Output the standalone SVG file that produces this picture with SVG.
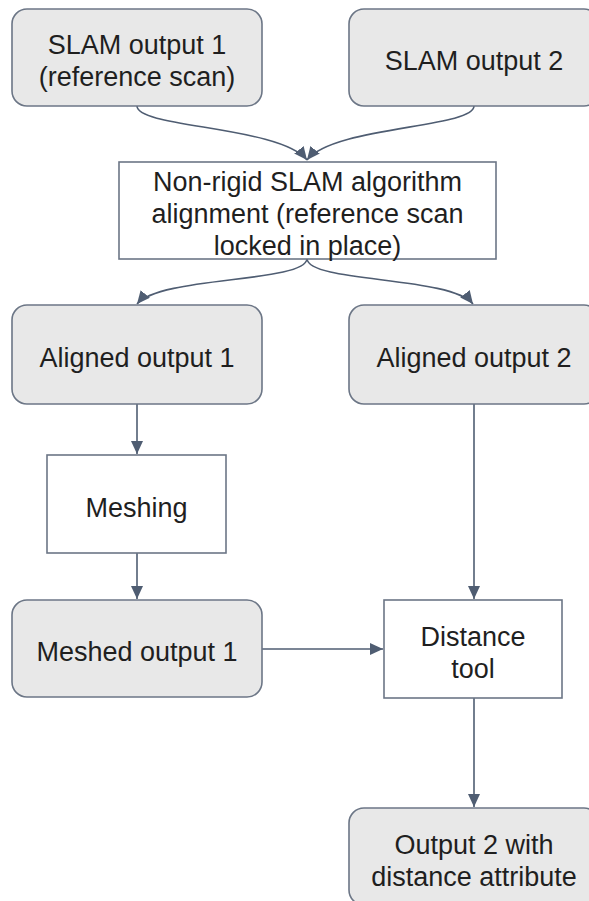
<svg xmlns="http://www.w3.org/2000/svg" width="589" height="901" viewBox="0 0 589 901">
<style>
.rnd{fill:#e8e8e8;stroke:#6c7686;stroke-width:1.6}
.sq{fill:#ffffff;stroke:#6c7686;stroke-width:1.6}
.t{font-family:"Liberation Sans",Arial,sans-serif;font-size:27px;fill:#1f1f1f;text-anchor:middle}
.c{fill:none;stroke:#4f5d72;stroke-width:1.6}
</style>
<defs>
<marker id="ah" markerUnits="userSpaceOnUse" markerWidth="14" markerHeight="12" refX="13" refY="6" orient="auto" viewBox="0 0 14 12">
<path d="M0,0 L13,6 L0,12 z" fill="#4f5d72"/>
</marker>
</defs>
<g id="connectors">
<path class="c" d="M137,106 C137,128 280,126 307,160" marker-end="url(#ah)"/>
<path class="c" d="M474,106 C474,128 334,126 307,160" marker-end="url(#ah)"/>
<path class="c" d="M307,259 C304,283 160,276 137,304" marker-end="url(#ah)"/>
<path class="c" d="M307,259 C310,283 451,276 473,304" marker-end="url(#ah)"/>
<path class="c" d="M137,404 L137,454" marker-end="url(#ah)"/>
<path class="c" d="M137,553 L137,599" marker-end="url(#ah)"/>
<path class="c" d="M474,404 L474,599" marker-end="url(#ah)"/>
<path class="c" d="M262,649 L383,649" marker-end="url(#ah)"/>
<path class="c" d="M474,698 L474,807" marker-end="url(#ah)"/>
</g>
<g id="slam1">
<rect class="rnd" x="12" y="9" width="250" height="97" rx="15"/>
<text class="t" x="137" y="53.5">SLAM output 1<tspan x="137" dy="32">(reference scan)</tspan></text>
</g>
<g id="slam2">
<rect class="rnd" x="349" y="9" width="250" height="97" rx="15"/>
<text class="t" x="474" y="69.5">SLAM output 2</text>
</g>
<g id="nonrigid">
<rect class="sq" x="119" y="162" width="377" height="97"/>
<text class="t" x="307.5" y="191">Non-rigid SLAM algorithm<tspan x="307.5" dy="32">alignment (reference scan</tspan><tspan x="307.5" dy="32">locked in place)</tspan></text>
</g>
<g id="aligned1">
<rect class="rnd" x="12" y="305" width="250" height="99" rx="15"/>
<text class="t" x="137" y="366.5">Aligned output 1</text>
</g>
<g id="aligned2">
<rect class="rnd" x="349" y="305" width="250" height="99" rx="15"/>
<text class="t" x="474" y="366.5">Aligned output 2</text>
</g>
<g id="meshing">
<rect class="sq" x="47" y="455" width="179" height="98"/>
<text class="t" x="136.5" y="516.5">Meshing</text>
</g>
<g id="meshed1">
<rect class="rnd" x="12" y="600" width="250" height="97" rx="15"/>
<text class="t" x="137" y="661">Meshed output 1</text>
</g>
<g id="distance">
<rect class="sq" x="384" y="600" width="178" height="98"/>
<text class="t" x="473" y="646">Distance<tspan x="473" dy="32">tool</tspan></text>
</g>
<g id="output2">
<rect class="rnd" x="349" y="808" width="250" height="97" rx="15"/>
<text class="t" x="474" y="854">Output 2 with<tspan x="474" dy="32">distance attribute</tspan></text>
</g>
</svg>
